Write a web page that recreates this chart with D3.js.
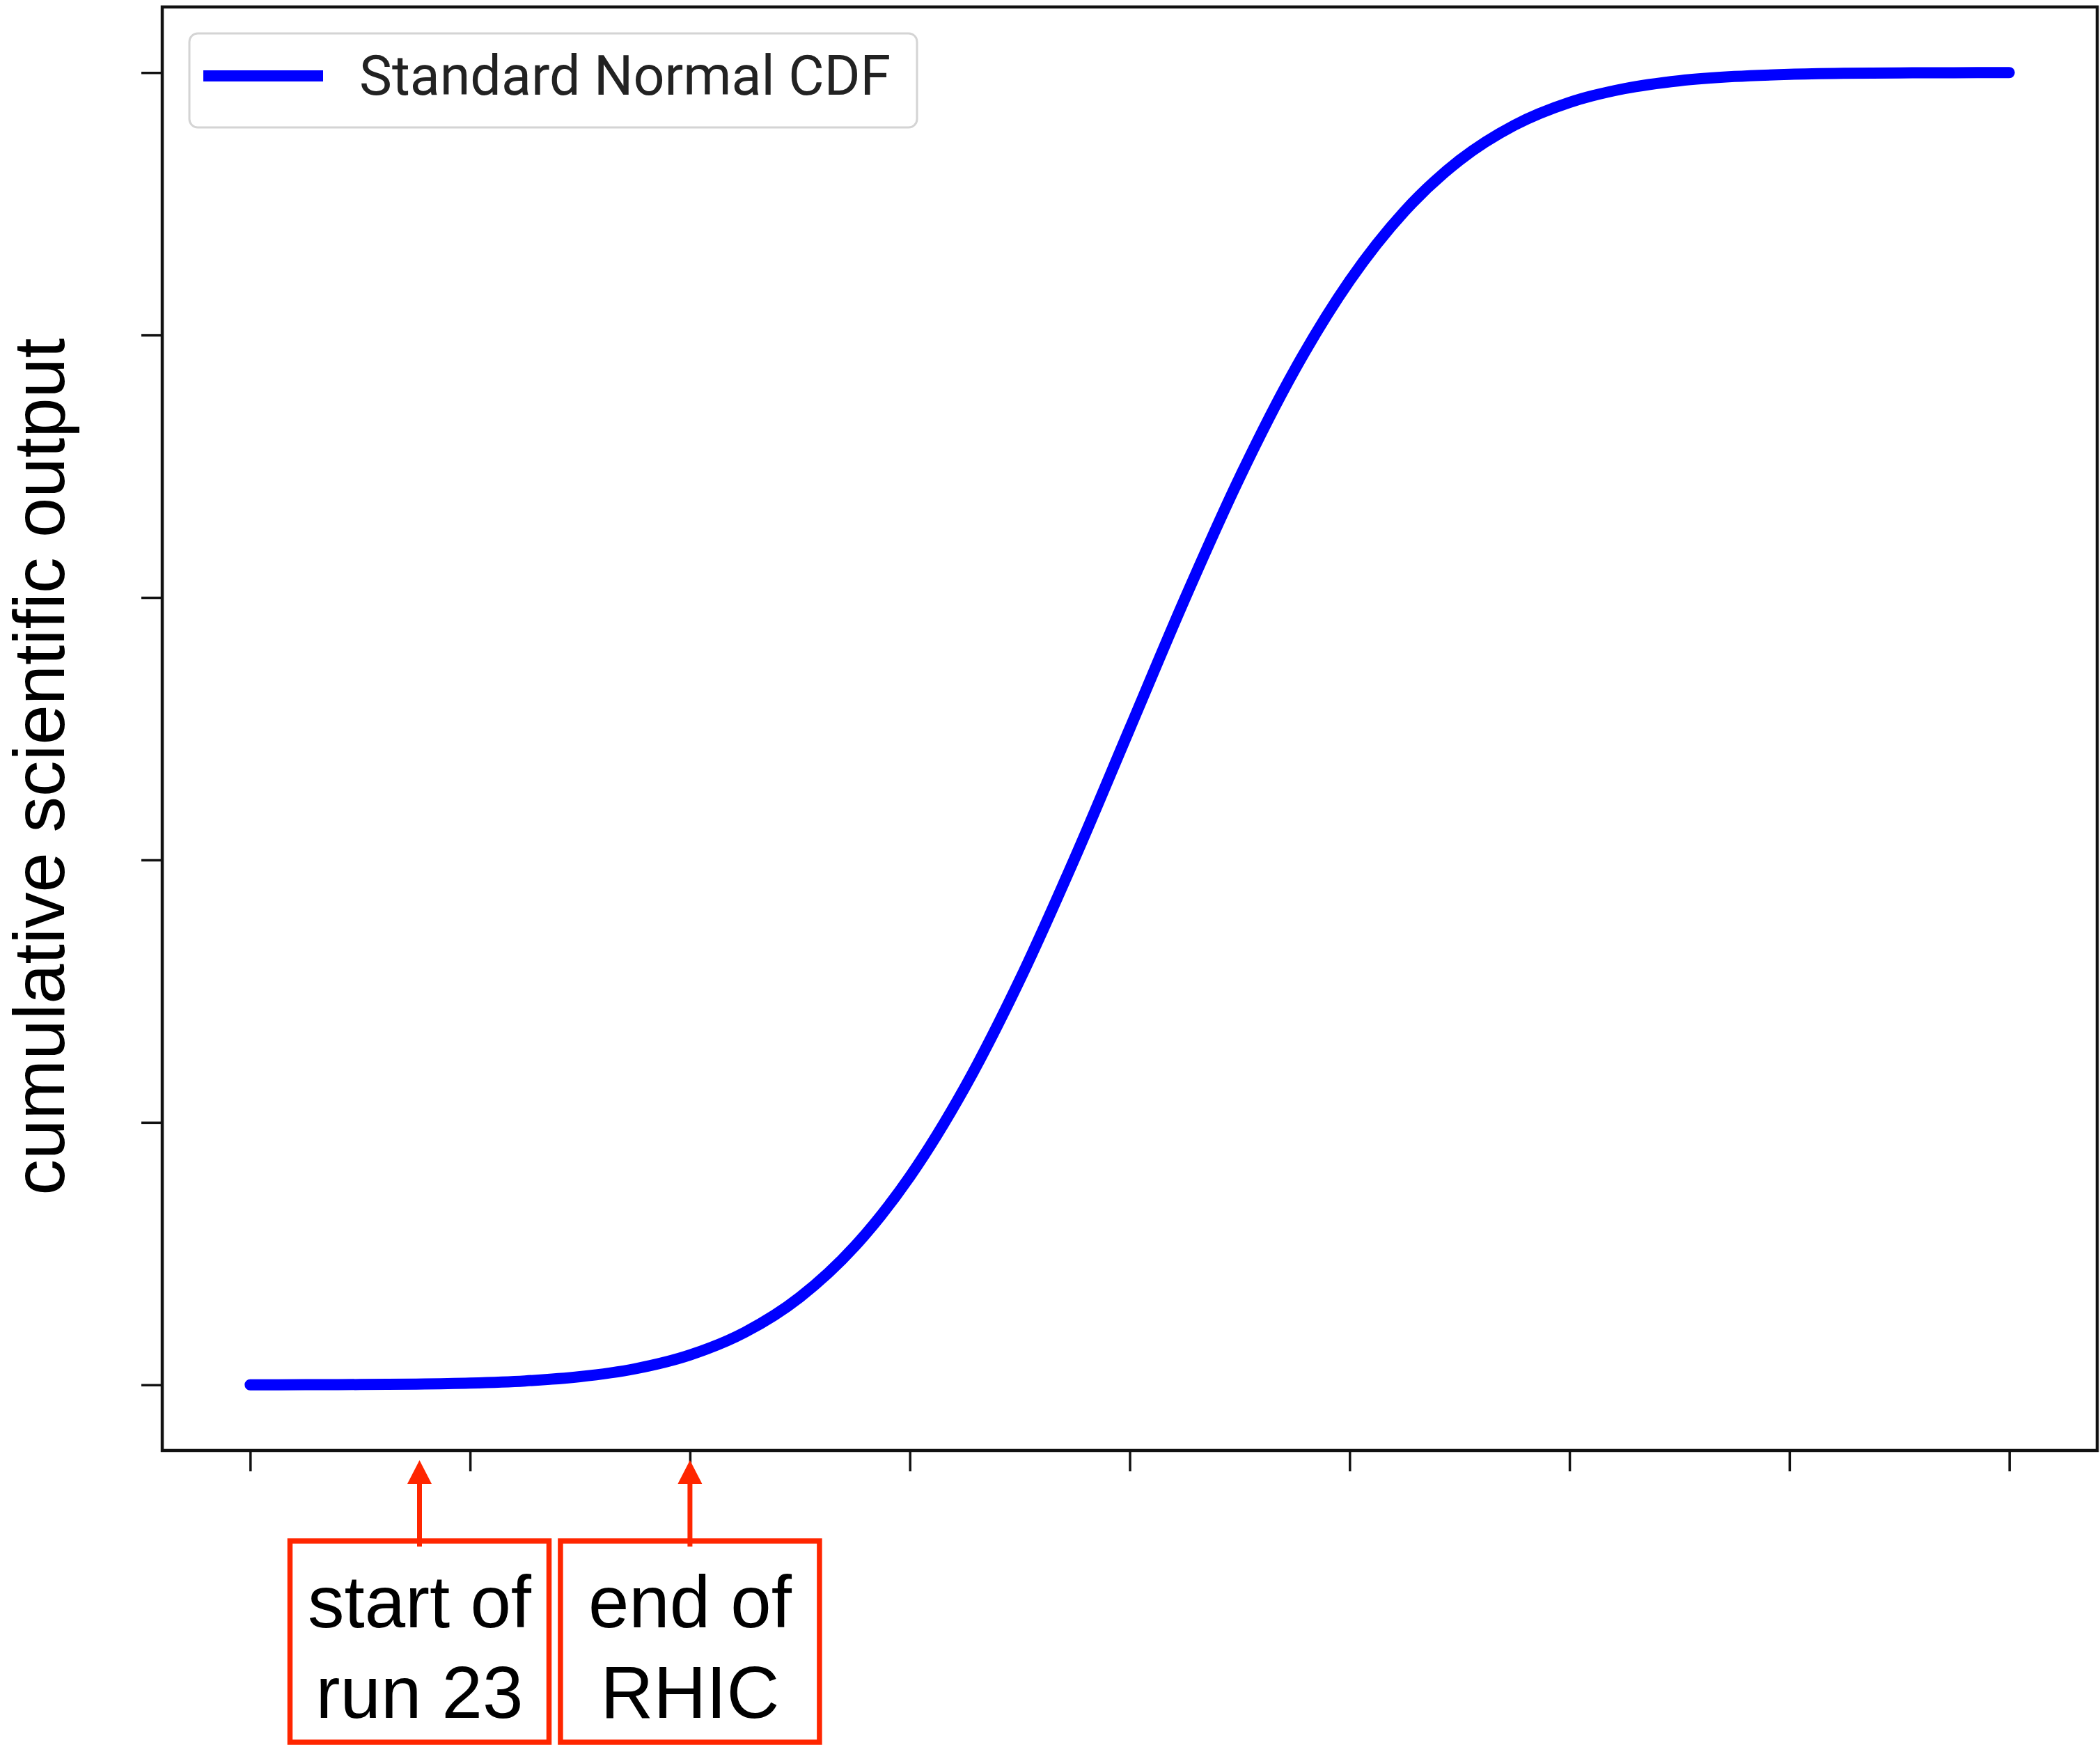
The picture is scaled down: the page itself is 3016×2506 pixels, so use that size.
<!DOCTYPE html>
<html>
<head>
<meta charset="utf-8">
<script src="https://cdn.jsdelivr.net/npm/d3@7"></script>
<style>
  body { margin: 0; background: #fff; }
</style>
</head>
<body>
<script>
// values
const xValues = [-4, -3.75, -3.5, -3.25, -3, -2.75, -2.5, -2.25, -2, -1.75, -1.5, -1.25, -1, -0.75, -0.5, -0.25,
  0, 0.25, 0.5, 0.75, 1, 1.25, 1.5, 1.75, 2, 2.25, 2.5, 2.75, 3, 3.25, 3.5, 3.75, 4];
const cdfValues = [0.00003, 0.00009, 0.00023, 0.00058, 0.00135, 0.00298, 0.00621, 0.01222, 0.02275, 0.04006, 0.06681, 0.10565,
  0.15866, 0.22663, 0.30854, 0.40129, 0.5, 0.59871, 0.69146, 0.77337, 0.84134, 0.89435, 0.93319, 0.95994, 0.97725,
  0.98778, 0.99379, 0.99702, 0.99865, 0.99942, 0.99977, 0.99991, 0.99997];
const xTicks = [-4, -3, -2, -1, 0, 1, 2, 3, 4];
const yTicks = [0, 0.2, 0.4, 0.6, 0.8, 1.0];
const seriesName = "Standard Normal CDF";
const yLabel = "cumulative scientific output";
const markerX = [-3.23, -2];
const markerLines = [["start of", "run 23"], ["end of", "RHIC"]];

const width = 3016, height = 2506;
const margin = { top: 10, right: 4, bottom: 423, left: 233 };
const red = "#ff2600";

const xS = d3.scaleLinear().domain([-4.4, 4.4]).range([margin.left, width - margin.right]);
const yS = d3.scaleLinear().domain([-0.05, 1.05]).range([height - margin.bottom, margin.top]);

const svg = d3.select("body").append("svg")
  .attr("width", width)
  .attr("height", height)
  .attr("viewBox", [0, 0, width, height]);

svg.append("rect").attr("width", width).attr("height", height).attr("fill", "#fff");

// the curve
const data = xValues.map((x, i) => [x, cdfValues[i]]);
svg.append("path")
  .datum(data)
  .attr("fill", "none")
  .attr("stroke", "#0000ff")
  .attr("stroke-width", 16)
  .attr("stroke-linecap", "round")
  .attr("stroke-linejoin", "round")
  .attr("d", d3.line().x(d => xS(d[0])).y(d => yS(d[1])).curve(d3.curveMonotoneX));

// axes, no tick labels
svg.append("g")
  .attr("transform", `translate(0,${height - margin.bottom})`)
  .call(d3.axisBottom(xS).tickValues(xTicks).tickSize(30).tickFormat(""))
  .call(g => g.select(".domain").remove())
  .call(g => g.selectAll(".tick line").attr("stroke", "#111").attr("stroke-width", 3.5));

svg.append("g")
  .attr("transform", `translate(${margin.left},0)`)
  .call(d3.axisLeft(yS).tickValues(yTicks).tickSize(30).tickFormat(""))
  .call(g => g.select(".domain").remove())
  .call(g => g.selectAll(".tick line").attr("stroke", "#111").attr("stroke-width", 3.5));

// frame
svg.append("rect")
  .attr("x", margin.left)
  .attr("y", margin.top)
  .attr("width", width - margin.right - margin.left)
  .attr("height", height - margin.bottom - margin.top)
  .attr("fill", "none")
  .attr("stroke", "#111")
  .attr("stroke-width", 4.5);

// legend
const legend = svg.append("g");
legend.append("rect")
  .attr("x", 272).attr("y", 48)
  .attr("width", 1045).attr("height", 135)
  .attr("rx", 12)
  .attr("fill", "#fff")
  .attr("stroke", "#d4d4d4")
  .attr("stroke-width", 3);
legend.append("line")
  .attr("x1", 292).attr("x2", 464)
  .attr("y1", 109).attr("y2", 109)
  .attr("stroke", "#0000ff")
  .attr("stroke-width", 16);
legend.append("text")
  .attr("x", 516).attr("y", 136)
  .attr("font-family", "Roboto, 'Open Sans', sans-serif")
  .attr("font-size", 79)
  .attr("fill", "#222")
  .text(seriesName);

// y label
svg.append("text")
  .attr("transform", "translate(92,1101) rotate(-90)")
  .attr("text-anchor", "middle")
  .attr("font-family", "'Liberation Sans', Arial, sans-serif")
  .attr("font-size", 103)
  .attr("fill", "#000")
  .text(yLabel);

// annotations under the x axis
const boxTop = 2213, boxW = 372, boxH = 289;
markerX.forEach((mx, i) => {
  const cx = xS(mx);
  const g = svg.append("g");
  g.append("rect")
    .attr("x", cx - boxW / 2).attr("y", boxTop)
    .attr("width", boxW).attr("height", boxH)
    .attr("fill", "none")
    .attr("stroke", red)
    .attr("stroke-width", 7.5);
  g.append("line")
    .attr("x1", cx).attr("x2", cx)
    .attr("y1", boxTop + 8).attr("y2", 2128)
    .attr("stroke", red)
    .attr("stroke-width", 7);
  g.append("path")
    .attr("d", `M${cx},2097 L${cx - 17.5},2131 L${cx + 17.5},2131 Z`)
    .attr("fill", red);
  g.selectAll("text")
    .data(markerLines[i])
    .join("text")
    .attr("x", cx)
    .attr("y", (d, j) => 2337 + j * 130)
    .attr("text-anchor", "middle")
    .attr("font-family", "'Liberation Sans', Arial, sans-serif")
    .attr("font-size", 105)
    .attr("fill", "#000")
    .text(d => d);
});
</script>
</body>
</html>
